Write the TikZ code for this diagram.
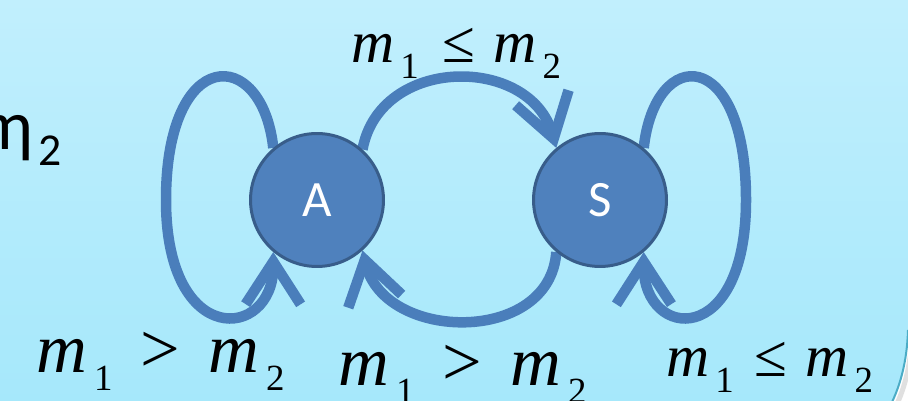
\documentclass[tikz,border=0pt]{standalone}
\usepackage{fontspec}
\usepackage{tikz}
\usetikzlibrary{arrows.meta}
\newfontfamily\serifm{Liberation Serif}
\newfontfamily\calib{Carlito}
\definecolor{edgeblue}{RGB}{74,126,187}
\definecolor{nodefill}{RGB}{79,129,189}
\definecolor{nodeline}{RGB}{56,93,138}
\definecolor{bgtop}{RGB}{193,239,253}
\definecolor{bgbot}{RGB}{166,232,251}
\definecolor{rimline}{RGB}{75,172,198}
\newcommand{\mvar}[1]{\textit{m}\kern0.1em\raisebox{-0.26em}{\fontsize{21}{21}\selectfont #1}}
\pgfdeclarelayer{back}
\pgfdeclarelayer{edges}
\pgfsetlayers{back,edges,main}

\begin{document}
\begin{tikzpicture}[x=0.02cm,y=-0.02cm,
  state/.style={circle,draw=nodeline,fill=nodefill,line width=0.06cm,minimum size=2.66cm,inner sep=0pt,text=white,font=\calib\fontsize{29}{29}\selectfont},
  edge/.style={edgeblue,line width=0.21cm,-{Straight Barb[length=0.85cm,width=1.1cm]}},
  cond/.style={anchor=base west,inner sep=0pt,font=\serifm}]
\clip (0,0) rectangle (908,401);
\begin{pgfonlayer}{back}
\shade[top color=bgtop,bottom color=bgbot] (0,0) rectangle (908,401);
\fill[white] (908,330) .. controls (907,362) and (900,388) .. (888,410) -- (920,410) -- cycle;
\draw[black!12,line width=0.1cm] (912,334) .. controls (911,366) and (904,392) .. (892,414);
\draw[rimline,line width=0.04cm] (908,330) .. controls (907,362) and (900,388) .. (888,410);
\end{pgfonlayer}

\node[anchor=base west,inner sep=0pt,font=\calib\fontsize{40}{40}\selectfont] (eta) at (-5,150) {η\kern0.08em\raisebox{-0.22em}{\fontsize{26}{26}\selectfont 2}};

\node[state] (A) at (317,200) {A};
\node[state] (S) at (600,200) {S};

\begin{pgfonlayer}{edges}
\draw[edge] (A.48) .. controls (380,55) and (530,55) .. (S.130);
\draw[edge] (S.230) .. controls (550,345) and (385,342) .. (A.312);
\draw[edge] (A.130) .. controls (262,45) and (166,45) .. (166,200) .. controls (166,350) and (273,340) .. (A.230);
\draw[edge] (S.50) .. controls (655,45) and (746,45) .. (746,200) .. controls (746,350) and (644,340) .. (S.310);
\end{pgfonlayer}

\node[cond,font=\serifm\fontsize{34}{34}\selectfont] (topcond) at (351,63) {\mvar{1}\hspace{0.4em}≤\hspace{0.3em}\mvar{2}};
\node[cond,font=\serifm\fontsize{40}{40}\selectfont] (loopA) at (36,372) {\mvar{1}\hspace{0.4em}>\hspace{0.4em}\mvar{2}};
\node[cond,font=\serifm\fontsize{40}{40}\selectfont] (backcond) at (338,385) {\mvar{1}\hspace{0.4em}>\hspace{0.4em}\mvar{2}};
\node[cond,font=\serifm\fontsize{34}{34}\selectfont] (loopS) at (666,377) {\mvar{1}\hspace{0.35em}≤\hspace{0.3em}\mvar{2}};
\end{tikzpicture}
\end{document}
